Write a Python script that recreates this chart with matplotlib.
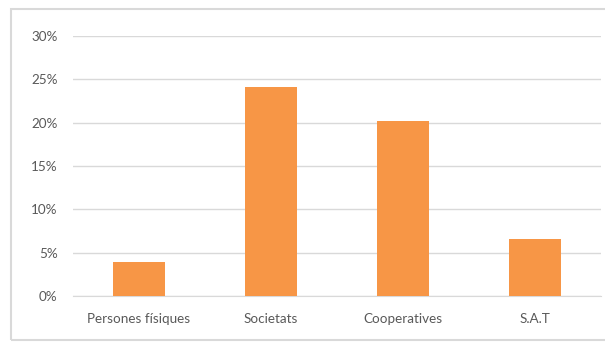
import matplotlib.pyplot as plt
from matplotlib.patches import Rectangle
from matplotlib.ticker import PercentFormatter

categories = ['Persones físiques', 'Societats', 'Cooperatives', 'S.A.T']
values = [3.9, 24.1, 20.2, 6.55]
yticks = [0, 5, 10, 15, 20, 25, 30]

plt.rcParams['font.family'] = ['Lato', 'DejaVu Sans']

fig = plt.figure(figsize=(6.05, 3.43), dpi=100)
ax = fig.add_axes([73 / 605, 47 / 343, 528 / 605, 260 / 343])

# outer chart frame (runs off the right edge like the original)
fig.patches.append(Rectangle((11 / 605, 3 / 343), 1.1, 331 / 343,
                             transform=fig.transFigure, fill=False,
                             edgecolor='#d9d9d9', linewidth=1.5, clip_on=False))

x = range(len(categories))
ax.bar(x, values, width=0.4, color='#F79646', zorder=3)

ax.set_xlim(-0.5, len(categories) - 0.5)
ax.set_ylim(0, 30)
ax.set_yticks(yticks)
ax.yaxis.set_major_formatter(PercentFormatter(decimals=0))
ax.set_xticks(list(x))
ax.set_xticklabels(categories)

ax.grid(axis='y', color='#d9d9d9', linewidth=1, zorder=0)
for s in ['top', 'right', 'left']:
    ax.spines[s].set_visible(False)
ax.spines['bottom'].set_color('#d9d9d9')
ax.tick_params(axis='both', length=0, labelsize=9.7, colors='#595959')
ax.tick_params(axis='y', pad=11)
ax.tick_params(axis='x', pad=12)

fig.savefig('out.png', dpi=100)
